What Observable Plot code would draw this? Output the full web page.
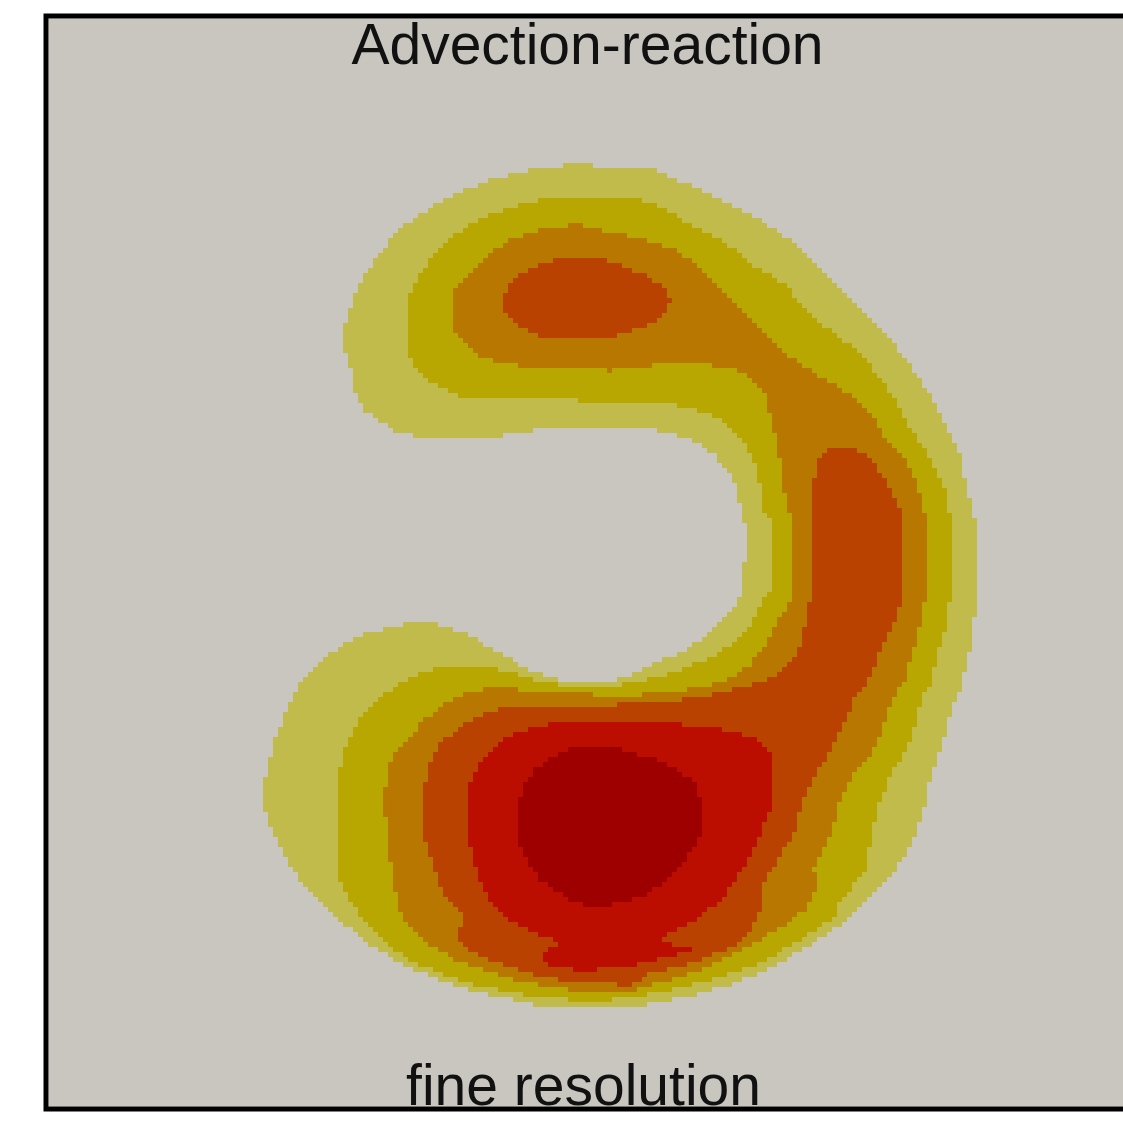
<!DOCTYPE html>
<html>
<head>
<meta charset="utf-8">
<script src="https://cdn.jsdelivr.net/npm/d3@7"></script>
<script src="https://cdn.jsdelivr.net/npm/@observablehq/plot@0.6"></script>
<style>
  html, body { margin: 0; padding: 0; background: #fff; overflow: hidden; }
</style>
</head>
<body>
<div id="chart"></div>
<script>
// Concentration field of the advection-reaction run, on the fine grid.
// Each level is a traced iso-region (grid-cell units); the field value at a cell
// is the highest level whose region contains it.
const titleText = "Advection-reaction";
const captionText = "fine resolution";
const gridExtent = 217.6;

const levelColors = ["#c8c6be", "#c0bb4a", "#b7a700", "#b87800", "#ba4200", "#bb0e00", "#9e0000"];
const levelThresholds = [0.5, 1.5, 2.5, 3.5, 4.5, 5.5];

const level1 = [
  [105.8,188.6],[110.4,187.8],[119.8,187.8],[124,186.2],[130.4,183.2],[135,181.2],[139.8,178.8],
  [144.4,175.8],[148.4,173.2],[152.4,169.8],[157,165.2],[161,161.2],[165,157.2],[168.4,153.2],
  [171.8,149.2],[174.4,145.2],[177,141.2],[179.8,135.8],[182,131.2],[184,122.6],[185.8,115.8],
  [185.8,101.8],[184,89.8],[182,82.6],[180.4,78.6],[178.4,71.2],[176.4,65.8],[174.8,58.6],
  [173,53.2],[170.8,49.2],[167,44.6],[163.8,41.2],[159.8,37.2],[155.8,34.6],[150.4,31.2],
  [143.8,27.2],[137,24.6],[130.4,22.6],[123.8,21.2],[117,19.8],[110.4,19.6],[99.8,19.8],
  [93.8,21.2],[87,22.6],[80.4,24.6],[73.8,27.2],[68.4,29.8],[63,33.2],[58.4,37.2],[54.4,41.2],
  [50.4,45.2],[47.8,48.6],[45.8,53.2],[43.8,57.2],[43,61.2],[43,64.6],[44,67.8],[45,72.6],
  [46.8,77.2],[49,82.6],[51.8,86.6],[55,89.8],[59,92.2],[63.8,94.6],[68.4,95.8],[74.8,97.2],
  [80.4,95.6],[84.4,94.2],[87,92.2],[91,90.2],[93.8,88.6],[97,86.8],[101.8,85.2],[110.4,84.8],
  [115.8,85.8],[119,87.2],[123.8,89.6],[127.8,91.2],[131,93.8],[134.4,97.2],[137.8,100.6],
  [139,103.8],[139.4,111.2],[139.4,115.8],[137.8,123.2],[135.8,127.2],[133,130.6],[129,133.2],
  [122.4,135.2],[110.4,135.8],[99,135.6],[91,134.2],[74.4,133.8],[70,134.8],[66,137.2],
  [63.4,139.2],[61.4,142.6],[60.4,147.8],[59,151.2],[59,155.6],[60.4,159.8],[61.8,163.6],
  [63.4,166.6],[65.8,169.8],[68.4,173.6],[71.8,176.6],[75,178.8],[77.8,180.8],[83,183.2],
  [88.4,185.2],[93.8,186.8],[100.4,187.8]
];

const level2 = [
  [101.8,181.8],[110.4,181.8],[118.4,181.2],[123,179.6],[127,177.2],[132.4,174.6],[137,171.6],
  [140.4,168.6],[143.8,166.6],[147.8,163.8],[151.8,158.6],[155.8,155.8],[159.8,152.6],
  [163.8,149.2],[167,144.6],[170.4,139.8],[173,134.6],[176,130.2],[179,124.6],[180.4,117.8],
  [180.4,104.6],[180,97.8],[177.8,91.2],[176.4,84.6],[174.4,81.2],[173.8,77.8],[171.8,71.2],
  [169,67.8],[166.4,61.2],[164.4,54.6],[163.8,47.8],[158.4,41.2],[157,37.8],[150.4,33.2],
  [141.8,28.6],[132.4,25.2],[123.8,23.2],[117,21.8],[110.4,21.2],[99.8,21.6],[93.8,22.6],
  [87.8,23.8],[82.4,25.2],[77,27.2],[72.4,29.2],[68.4,31.8],[65.4,34.6],[62.8,37.8],[60.4,41.2],
  [58,45.2],[57.6,51.2],[57.6,61.2],[58.2,67.2],[59.4,72.2],[61.8,76.8],[63.8,79.2],[67,82.2],
  [70.4,84.8],[74.4,86.8],[79.8,88.2],[88.4,87.8],[93,86.6],[97,85.2],[102.4,84.2],[110.4,83.8],
  [117,84.6],[121.8,85.8],[127.8,87.8],[132.4,89.8],[135.8,91.8],[139,94.8],[141,97.2],
  [143,101.8],[144.4,102.6],[144.4,117.8],[143,119.2],[142.8,121.8],[141.8,127.2],[139.8,131.8],
  [137,135.2],[133.8,137.8],[129,139.6],[122.4,140.8],[110.4,141.2],[86.4,141.4],[81.8,142.2],
  [79,143.8],[75,145.6],[73,147.8],[71.8,151.2],[71.8,157.8],[72.4,162.6],[73.8,165.8],
  [75.8,168.6],[77.8,171.2],[81,174.2],[84.4,176.6],[88.4,178.2],[92.4,179.8],[95.8,180.8]
];

const level3 = [
  [105.8,176.6],[110.4,175.2],[119,173.6],[125.8,171.2],[129,168.6],[133,165.2],[137,161.2],
  [141,156.6],[145,152.6],[150.4,148.6],[155.8,145.2],[161,141.8],[165,137.8],[167.8,133.2],
  [170.8,130.2],[173.8,124.6],[175.4,117.8],[175.8,104.6],[174.8,97.8],[173,91.2],[171,84.6],
  [168.4,81.2],[167.8,77.8],[165,71.2],[161.8,67.8],[158.4,61.2],[156.4,54.6],[153,47.8],
  [153.8,43.8],[151.8,39.8],[146.4,35.8],[139.8,31.8],[131.8,27.8],[123.8,25.2],[117,23.2],
  [110.4,22.6],[101.8,23.8],[93.8,25.2],[87,27.2],[80.4,29.8],[75,33.2],[71.8,36.6],[69.8,39.8],
  [69,45.2],[67.8,53.2],[67,61.2],[68,67.8],[69.8,71.2],[71.8,73.2],[75,77.2],[78.4,79.8],
  [83,82.6],[88.4,83.6],[97,83.2],[110.4,82.2],[117,82.2],[127,83.2],[134.4,84.6],[139.8,87.8],
  [143.8,92.6],[146.4,97.8],[148.4,101.2],[148.4,118.2],[147.4,121.8],[146.6,127.2],[145.8,132.6],
  [144.4,138.6],[143,143.2],[139.8,146.6],[133.8,148.2],[123.8,148.6],[113,147.2],[95.8,147.8],
  [86.4,149.8],[83,152.6],[80.4,155.2],[80.4,159.8],[81,163.2],[83.8,166.6],[87,169.8],
  [92.4,173.6],[97.8,175.2]
];

// Upper lobe peak
const level4Upper = [
  [103,169.8],[110.4,169.8],[113,168.8],[117,167.2],[120.4,165.8],[123,163.8],[124.4,161.2],
  [123.8,159.2],[121,156.6],[116.4,155],[111,153.6],[99.8,153.6],[95.8,155.2],[91.8,157.8],
  [90.4,159.8],[91,162.6],[92.4,164.6],[95,166.8],[99,168.6]
];

// Right arm and lower lobe
const level4Lower = [
  [158.4,132.2],[162.4,131.2],[165.8,127.8],[168.4,123.2],[169.8,121.2],[171,115.8],[171,104.6],
  [169.8,97.8],[167.8,94.6],[165.8,89.8],[163.8,84.6],[161,81.2],[159.8,77.8],[157,72.2],
  [154.4,67.8],[151,61.2],[149,54.6],[145,47.8],[142.4,43.8],[142.4,39.8],[141,35.8],[137,32.2],
  [130.4,29.2],[120.4,26.6],[116.4,24.4],[107,24.6],[95.8,26.6],[88.4,29.2],[83,31.8],
  [81.8,34.6],[83,37.8],[79.8,41.2],[76.8,47.8],[75,54.6],[74.8,61.2],[75.8,67.8],[77.8,72.2],
  [79.8,73.8],[83,76.6],[87,78.6],[91,79.8],[97,80.2],[110.4,80.2],[120.4,80.6],[130.4,81.8],
  [139,83.8],[145,85.8],[148.4,88.6],[150.4,92.6],[152,99.2],[152.8,104.6],[153,124.6],
  [153.8,129.2],[156,131.6]
];

const level5 = [
  [110.4,77.2],[117,77],[124.4,76.6],[130.4,76],[137,75],[141.8,73.2],[144.4,70.2],[145,65.2],
  [144.4,59.8],[142.4,54.6],[139.8,49.2],[137,44.6],[133.8,40.6],[129,37.2],[124.4,34.6],
  [123,33.4],[125.4,32.2],[129,31.4],[123.8,30],[117,28.2],[110.4,27.6],[106.4,27],[99,28.6],
  [98.4,30.6],[101.8,32.2],[101.8,33.2],[97,34.8],[91,37.8],[88.4,41.2],[85.8,45.8],[84.4,51.2],
  [83.8,57.8],[83.8,63],[85,66.6],[87,69.8],[91,73.8],[95,75.2],[100.4,76.6],[107,77]
];

const level6 = [
  [104.4,71.8],[110.4,72],[114.4,71.4],[120.4,69.8],[125.8,67.4],[129.8,64.4],[130.8,59.8],
  [130.4,54.6],[129,51.8],[126.4,47.8],[123,44.6],[119,42],[114.4,40.6],[110.4,40],[105,40.6],
  [102.4,42.4],[98.4,45.2],[95.8,48.6],[93.8,53.6],[93.8,59.6],[95,64.2],[97,67.2],[100.4,69.8]
];

const regions = [
  {level: 1, ring: level1},
  {level: 2, ring: level2},
  {level: 3, ring: level3},
  {level: 4, ring: level4Upper},
  {level: 4, ring: level4Lower},
  {level: 5, ring: level5},
  {level: 6, ring: level6}
].map(r => {
  const xs = r.ring.map(p => p[0]), ys = r.ring.map(p => p[1]);
  return {...r, x0: d3.min(xs), x1: d3.max(xs), y0: d3.min(ys), y1: d3.max(ys)};
});

function levelAt(x, y) {
  let lv = 0;
  for (const r of regions) {
    if (r.level <= lv) continue;
    if (x < r.x0 || x > r.x1 || y < r.y0 || y > r.y1) continue;
    if (d3.polygonContains(r.ring, [x, y])) lv = r.level;
  }
  return lv;
}

const fontFamily = "'Liberation Sans', Arial, Helvetica, sans-serif";

const chart = Plot.plot({
  width: 1145,
  height: 1132,
  marginLeft: 48,
  marginRight: 9,
  marginTop: 18,
  marginBottom: 26,
  x: {domain: [0, gridExtent], axis: null},
  y: {domain: [0, gridExtent], axis: null},
  color: {type: "threshold", domain: levelThresholds, range: levelColors},
  marks: [
    Plot.raster({
      x1: 0, x2: gridExtent, y1: 0, y2: gridExtent,
      fill: (x, y) => levelAt(x, y),
      pixelSize: 5,
      imageRendering: "pixelated"
    }),
    Plot.text([titleText], {
      text: d => d,
      frameAnchor: "top",
      lineAnchor: "top",
      dx: -5,
      dy: 5,
      fontSize: 57,
      fontFamily,
      fill: "#111"
    }),
    Plot.text([captionText], {
      text: d => d,
      frameAnchor: "bottom",
      lineAnchor: "bottom",
      dx: -9,
      dy: -2,
      fontSize: 57,
      fontFamily,
      fill: "#111"
    }),
    Plot.frame({stroke: "#000", strokeWidth: 5, inset: -2.5})
  ]
});

chart.style.maxWidth = "none";
chart.style.background = "#fff";
chart.style.overflow = "visible";
document.getElementById("chart").appendChild(chart);
</script>
</body>
</html>
